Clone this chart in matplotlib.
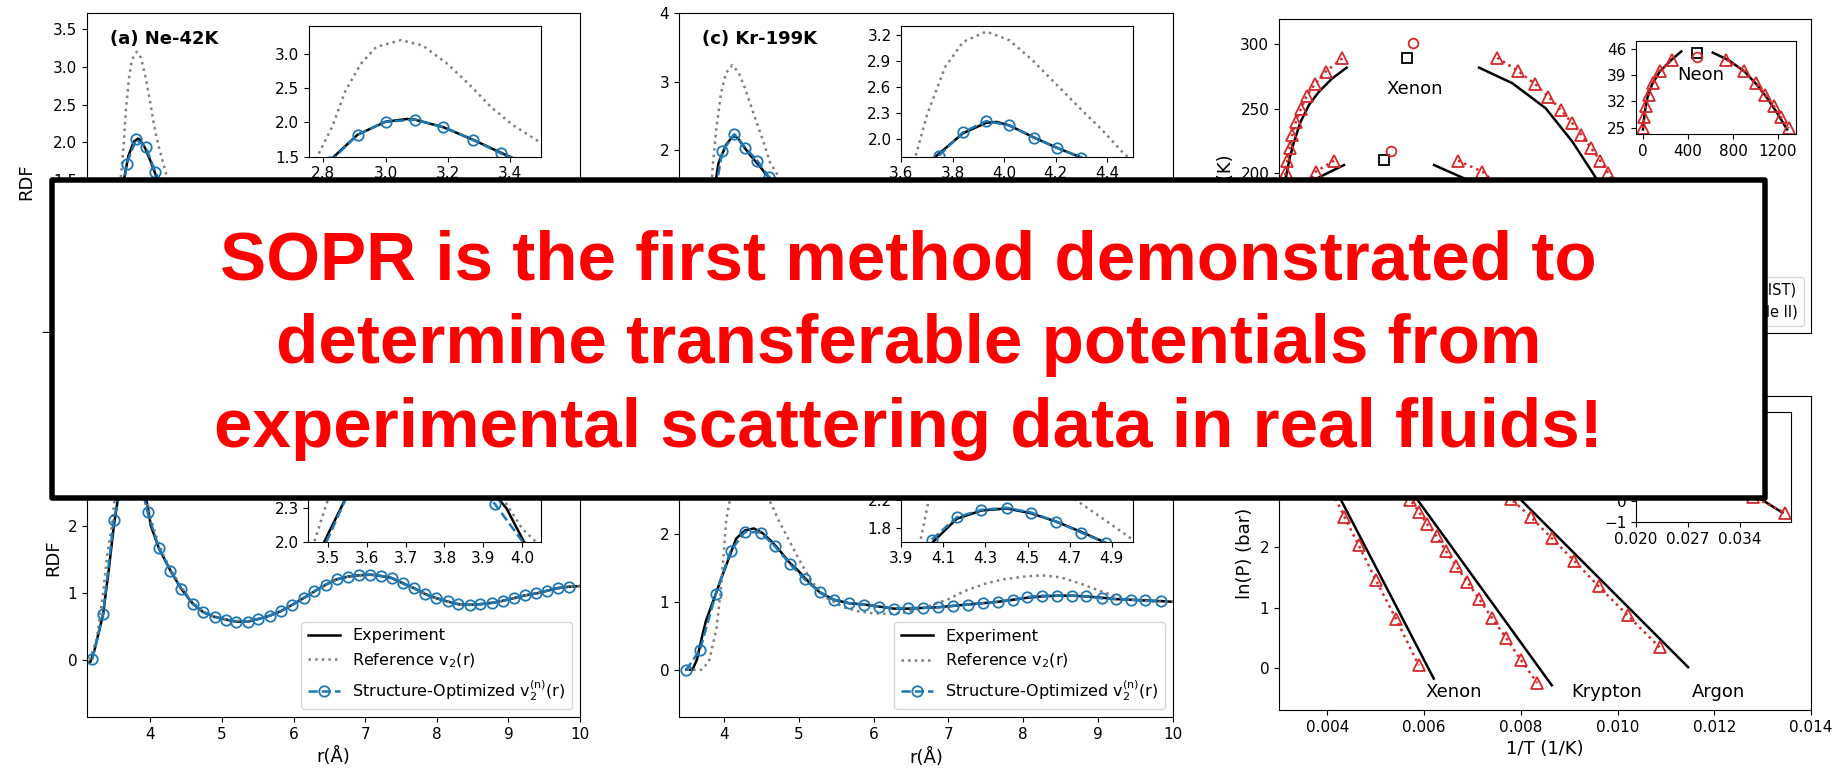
import matplotlib
matplotlib.use("Agg")
import matplotlib.pyplot as plt
from matplotlib.patches import Rectangle
from matplotlib.ticker import MultipleLocator

# ------------------------------------------------------------------ data
# (a) Ne-42K
r_exp_a = [2.45, 2.55, 2.65, 2.75, 2.834, 2.91, 3.00, 3.07, 3.095, 3.186, 3.28, 3.37, 3.46, 3.60, 3.80,
           4.00, 4.30, 4.60, 5.00, 5.40, 5.80, 6.20, 6.60, 7.00, 7.50, 8.00, 8.50, 9.00, 9.50, 10.00, 10.40]
g_exp_a = [0.0, 0.0, 0.1, 0.85, 1.50, 1.82, 2.01, 2.05, 2.04, 1.93, 1.75, 1.56, 1.38, 1.18, 1.00,
           0.88, 0.80, 0.82, 0.92, 1.05, 1.10, 1.08, 1.02, 0.98, 0.96, 0.98, 1.01, 1.02, 1.01, 1.00, 1.00]
r_ref_a = [2.45, 2.60, 2.70, 2.78, 2.83, 2.87, 2.92, 2.97, 3.05, 3.12, 3.20, 3.27, 3.34, 3.41, 3.49, 3.56,
           3.70, 3.90, 4.10, 4.40, 4.80, 5.20, 5.60, 6.00, 6.50, 7.00, 7.50, 8.00, 8.50, 9.00, 9.50, 10.00, 10.40]
g_ref_a = [0.0, 0.0, 0.35, 1.50, 1.95, 2.45, 2.85, 3.10, 3.20, 3.12, 2.85, 2.55, 2.22, 1.96, 1.73, 1.52,
           1.20, 0.95, 0.78, 0.68, 0.72, 0.90, 1.10, 1.20, 1.15, 1.03, 0.95, 0.93, 0.97, 1.02, 1.03, 1.00, 1.00]
r_opt_a = [2.56, 2.72, 2.88, 3.04, 3.20, 3.36, 3.52, 3.80, 4.10, 4.40, 4.80, 5.20, 5.60, 6.00, 6.50,
           7.00, 7.50, 8.00, 8.50, 9.00, 9.50, 10.00, 10.40]
g_opt_a = [0.0, 0.55, 1.72, 2.04, 1.94, 1.61, 1.30, 1.00, 0.86, 0.80, 0.85, 0.98, 1.08, 1.10, 1.04,
           0.98, 0.96, 0.98, 1.01, 1.02, 1.01, 1.00, 1.00]
r_optz_a = [2.82, 2.91, 3.00, 3.095, 3.186, 3.28, 3.37, 3.46]
g_optz_a = [1.42, 1.82, 2.01, 2.04, 1.93, 1.75, 1.55, 1.38]

# (c) Kr-199K
r_exp_c = [3.30, 3.45, 3.55, 3.65, 3.733, 3.84, 3.93, 3.97, 4.02, 4.116, 4.207, 4.30, 4.40, 4.50, 4.70,
           4.90, 5.10, 5.40, 5.80, 6.20, 6.60, 7.00, 7.50, 8.00, 8.50, 9.00, 9.50, 10.00, 10.25]
g_exp_c = [0.0, 0.05, 0.45, 1.25, 1.80, 2.07, 2.19, 2.20, 2.16, 2.02, 1.90, 1.79, 1.66, 1.55, 1.35,
           1.18, 1.05, 0.93, 0.88, 0.92, 1.00, 1.05, 1.06, 1.03, 1.00, 0.98, 0.99, 1.00, 1.00]
r_ref_c = [3.30, 3.40, 3.50, 3.60, 3.655, 3.70, 3.77, 3.84, 3.93, 4.02, 4.11, 4.20, 4.29, 4.38, 4.47,
           4.55, 4.70, 4.90, 5.10, 5.40, 5.80, 6.20, 6.60, 7.00, 7.50, 8.00, 8.50, 9.00, 9.50, 10.00, 10.25]
g_ref_c = [0.0, 0.0, 0.15, 0.90, 1.80, 2.28, 2.83, 3.12, 3.24, 3.14, 2.91, 2.64, 2.37, 2.11, 1.82,
           1.68, 1.45, 1.20, 1.00, 0.82, 0.72, 0.78, 0.95, 1.12, 1.20, 1.15, 1.05, 0.97, 0.95, 0.98, 1.00]
r_opt_c = [3.30, 3.46, 3.63, 3.79, 3.96, 4.12, 4.29, 4.45, 4.62, 4.90, 5.30, 5.80, 6.30, 6.80, 7.30,
           7.80, 8.30, 8.80, 9.30, 9.80, 10.20]
g_opt_c = [0.0, 0.10, 1.05, 1.98, 2.23, 2.03, 1.84, 1.61, 1.45, 1.18, 0.97, 0.88, 0.94, 1.03, 1.06,
           1.04, 1.00, 0.98, 0.99, 1.00, 1.00]
r_optz_c = [3.745, 3.84, 3.93, 4.02, 4.116, 4.207, 4.30, 4.39]
g_optz_c = [1.81, 2.08, 2.21, 2.16, 2.02, 1.90, 1.79, 1.66]

# (b) argon panel (lower left)
r_exp_b = [3.16, 3.22, 3.34, 3.42, 3.49, 3.545, 3.60, 3.66, 3.72, 3.78, 3.84, 3.90, 3.96, 4.005, 4.12,
           4.28, 4.43, 4.59, 4.74, 4.90, 5.06, 5.20, 5.36, 5.51, 5.67, 5.83, 5.98, 6.14, 6.29, 6.45,
           6.60, 6.76, 6.92, 7.07, 7.22, 7.37, 7.53, 7.68, 7.84, 7.99, 8.15, 8.30, 8.46, 8.61, 8.77,
           8.92, 9.08, 9.23, 9.39, 9.54, 9.69, 9.85, 10.0]
g_exp_b = [-0.03, 0.15, 0.68, 1.35, 2.00, 2.39, 2.70, 2.90, 2.97, 2.93, 2.78, 2.55, 2.30, 2.00, 1.66,
           1.33, 1.06, 0.84, 0.71, 0.64, 0.60, 0.57, 0.57, 0.61, 0.66, 0.73, 0.82, 0.92, 1.02, 1.12,
           1.20, 1.24, 1.26, 1.27, 1.25, 1.22, 1.14, 1.07, 0.98, 0.92, 0.87, 0.83, 0.82, 0.83, 0.85,
           0.88, 0.92, 0.96, 0.99, 1.03, 1.07, 1.09, 1.10]
r_ref_b = [3.15, 3.25, 3.34, 3.40, 3.464, 3.52, 3.58, 3.64, 3.70, 3.76, 3.82, 3.88, 3.94, 4.00, 4.10,
           4.20, 4.30, 4.45, 4.59, 4.74, 4.90, 5.06, 5.20, 5.36, 5.51, 5.67, 5.83, 5.98, 6.14, 6.29,
           6.45, 6.60, 6.76, 6.92, 7.07, 7.22, 7.37, 7.53, 7.68, 7.84, 7.99, 8.15, 8.30, 8.46, 8.61,
           8.77, 8.92, 9.08, 9.23, 9.39, 9.54, 9.69, 9.85, 10.0]
g_ref_b = [0.0, 0.30, 1.00, 1.60, 2.00, 2.60, 3.00, 3.25, 3.32, 3.25, 3.05, 2.75, 2.45, 2.12, 1.78,
           1.52, 1.32, 1.06, 0.86, 0.72, 0.64, 0.60, 0.58, 0.58, 0.61, 0.66, 0.73, 0.82, 0.92, 1.02,
           1.12, 1.19, 1.24, 1.26, 1.27, 1.25, 1.21, 1.14, 1.07, 0.99, 0.92, 0.87, 0.83, 0.82, 0.83,
           0.85, 0.88, 0.92, 0.96, 0.99, 1.03, 1.06, 1.09, 1.10]
r_opt_b = [3.19, 3.34, 3.49, 3.65, 3.80, 3.96, 4.12, 4.28, 4.43, 4.59, 4.74, 4.90, 5.06, 5.20, 5.36,
           5.51, 5.67, 5.83, 5.98, 6.14, 6.29, 6.45, 6.60, 6.76, 6.92, 7.07, 7.22, 7.37, 7.53, 7.68,
           7.84, 7.99, 8.15, 8.30, 8.46, 8.61, 8.77, 8.92, 9.08, 9.23, 9.39, 9.54, 9.69, 9.85]
g_opt_b = [0.01, 0.68, 2.09, 2.85, 2.92, 2.20, 1.66, 1.33, 1.06, 0.84, 0.71, 0.64, 0.60, 0.57, 0.57,
           0.61, 0.66, 0.73, 0.82, 0.92, 1.02, 1.12, 1.20, 1.24, 1.26, 1.27, 1.25, 1.22, 1.14, 1.07,
           0.98, 0.92, 0.87, 0.83, 0.82, 0.83, 0.85, 0.88, 0.92, 0.96, 0.99, 1.03, 1.07, 1.09]
r_optz_b = [3.4675, 3.56, 3.6525, 3.745, 3.8375, 3.93, 4.0225]
g_optz_b = [1.78, 2.50, 2.90, 2.95, 2.72, 2.34, 1.90]

# (d) xenon panel (lower middle)
r_exp_d = [3.50, 3.58, 3.64, 3.70, 3.76, 3.82, 3.89, 3.96, 4.045, 4.163, 4.28, 4.40, 4.517, 4.636, 4.756,
           4.874, 5.00, 5.08, 5.28, 5.47, 5.67, 5.87, 6.07, 6.27, 6.46, 6.66, 6.86, 7.06, 7.26, 7.46,
           7.66, 7.86, 8.05, 8.25, 8.45, 8.65, 8.84, 9.05, 9.24, 9.44, 9.63, 9.84, 10.0]
g_exp_d = [0.0, 0.0, 0.15, 0.45, 0.72, 0.90, 1.11, 1.33, 1.58, 1.93, 2.05, 2.08, 2.01, 1.89, 1.74,
           1.58, 1.45, 1.35, 1.14, 1.03, 0.98, 0.96, 0.93, 0.90, 0.90, 0.91, 0.92, 0.94, 0.96, 0.98,
           1.00, 1.03, 1.06, 1.08, 1.09, 1.09, 1.08, 1.06, 1.04, 1.03, 1.02, 1.01, 1.00]
r_ref_d = [3.50, 3.70, 3.80, 3.90, 3.96, 3.99, 4.03, 4.08, 4.15, 4.25, 4.35, 4.50, 4.63, 4.73, 4.85,
           4.99, 5.17, 5.38, 5.60, 5.80, 6.00, 6.20, 6.40, 6.70, 7.00, 7.22, 7.50, 7.73, 8.00, 8.25,
           8.50, 8.76, 9.00, 9.27, 9.50, 9.75, 10.0]
g_ref_d = [0.0, 0.0, 0.12, 0.60, 1.20, 1.60, 2.20, 2.50, 2.65, 2.72, 2.75, 2.65, 2.45, 2.20, 1.95,
           1.65, 1.30, 1.05, 0.92, 0.86, 0.83, 0.82, 0.84, 0.92, 1.04, 1.16, 1.27, 1.33, 1.37, 1.39,
           1.36, 1.27, 1.17, 1.07, 1.02, 1.00, 1.00]
r_opt_d = [3.49, 3.68, 3.89, 4.09, 4.28, 4.49, 4.68, 4.88, 5.08, 5.28, 5.47, 5.67, 5.87, 6.07, 6.27,
           6.46, 6.66, 6.86, 7.06, 7.26, 7.46, 7.66, 7.86, 8.05, 8.25, 8.45, 8.65, 8.84, 9.05, 9.24,
           9.44, 9.63, 9.84]
g_opt_d = [-0.01, 0.29, 1.11, 1.75, 2.03, 2.02, 1.82, 1.56, 1.33, 1.14, 1.03, 0.98, 0.96, 0.93, 0.90,
           0.91, 0.91, 0.92, 0.94, 0.96, 0.98, 1.00, 1.03, 1.07, 1.09, 1.09, 1.09, 1.08, 1.05, 1.04,
           1.03, 1.02, 1.01]
r_optz_d = [4.045, 4.163, 4.28, 4.40, 4.517, 4.636, 4.756, 4.874, 4.99]
g_optz_d = [1.63, 1.95, 2.06, 2.09, 2.02, 1.89, 1.73, 1.58, 1.45]

# vapour-liquid coexistence (density kg/m^3, temperature K)
xe_exp_l_rho = [10, 30, 63, 92, 130, 187, 259, 346, 461, 585]
xe_exp_l_T = [162, 180, 198.7, 211.6, 224.5, 240.0, 253.0, 263.3, 273.6, 281.9]
xe_exp_r_rho = [1730, 2018, 2306, 2537, 2724, 2850, 2980]
xe_exp_r_T = [281.9, 269.8, 250.4, 224.5, 198.7, 180, 162]
xe_mod_l_rho = [548, 404, 311, 239, 187, 144, 115, 92, 72, 58, 40, 28, 18]
xe_mod_l_T = [289.1, 278.8, 269.2, 259.9, 249.6, 239.5, 229.7, 219.8, 209.8, 201.2, 190, 180, 170]
xe_mod_r_rho = [1888, 2067, 2214, 2330, 2437, 2532, 2615, 2696, 2777, 2849, 2920, 2990, 3060]
xe_mod_r_T = [289.6, 279.3, 269.2, 259.4, 249.1, 239.2, 229.7, 219.8, 209.8, 200.0, 190, 180, 170]
kr_exp_l_rho = [10, 20, 40, 80, 140, 220, 346, 562]
kr_exp_l_T = [116, 125, 140, 155, 170, 185, 196.9, 206.4]
kr_exp_r_rho = [1341, 1600, 1780, 1950, 2090, 2210, 2320, 2380]
kr_exp_r_T = [206.4, 196.1, 185, 170, 155, 140, 125, 116]
kr_mod_l_rho = [476, 317, 230, 160, 110, 75, 50, 30, 20, 12]
kr_mod_l_T = [209.8, 201.2, 190, 180, 170, 160, 150, 140, 130, 120]
kr_mod_r_rho = [1548, 1759, 1900, 2010, 2100, 2180, 2250, 2320, 2380, 2440]
kr_mod_r_T = [209.8, 201.2, 190, 180, 170, 160, 150, 140, 130, 120]
ar_exp_l_rho = [10, 30, 70, 140, 230, 350, 470]
ar_exp_l_T = [84, 100, 115, 130, 140, 147, 150]
ar_exp_r_rho = [600, 780, 960, 1120, 1250, 1370, 1410]
ar_exp_r_T = [150, 146, 138, 125, 110, 95, 87]
ar_mod_l_rho = [40, 90, 170, 300, 450]
ar_mod_l_T = [100, 115, 130, 142, 149]
ar_mod_r_rho = [800, 1000, 1150, 1270, 1380]
ar_mod_r_T = [149, 142, 130, 115, 100]
crit_exp_rho = [1110, 909, 536]
crit_exp_T = [289.6, 210.3, 150.7]
crit_mod_rho = [1162, 972, 560]
crit_mod_T = [300.8, 217.3, 156.0]
coex_labels = ["Xenon", "Krypton", "Argon"]
coex_label_rho = [1176, 975, 600]
coex_label_T = [265.3, 186, 127]
coex_legend = ["Experiment (NIST)", "Predicted (Table II)"]

ne_exp_l_rho = [0, 15, 40, 80, 150, 250, 340]
ne_exp_l_T = [24.5, 29.0, 33.0, 36.5, 40.0, 43.0, 45.3]
ne_exp_r_rho = [620, 760, 900, 1010, 1100, 1190, 1280]
ne_exp_r_T = [45.0, 43.0, 40.0, 36.5, 33.0, 29.0, 24.5]
ne_mod_l_rho = [0, 11, 25, 52, 88, 147, 262]
ne_mod_l_T = [24.8, 27.8, 30.8, 33.7, 36.8, 40.1, 43.1]
ne_mod_r_rho = [741, 899, 1004, 1084, 1161, 1224, 1294]
ne_mod_r_T = [43.1, 40.1, 36.8, 33.7, 30.8, 27.8, 24.8]
ne_crit_exp = (483, 45.0)
ne_crit_mod = (483, 43.9)

# vapour pressure: 1/T (1/K) and ln(P/bar)
xe_inv_exp = [0.00345, 0.0062]
xe_lnp_exp = [4.07, -0.18]
xe_inv_mod = [0.00347, 0.00365, 0.00385, 0.00408, 0.00435, 0.00465, 0.00500, 0.00542, 0.00589]
xe_lnp_mod = [4.00, 3.68, 3.33, 2.95, 2.51, 2.03, 1.46, 0.81, 0.04]
kr_inv_exp = [0.00477, 0.00864]
kr_lnp_exp = [4.00, -0.29]
kr_inv_mod = [0.00478, 0.00505, 0.00530, 0.00550, 0.00571, 0.00589, 0.00607, 0.00626, 0.00645,
              0.00666, 0.00689, 0.00714, 0.00741, 0.00770, 0.00800, 0.00834]
kr_lnp_mod = [3.95, 3.60, 3.30, 3.03, 2.79, 2.59, 2.38, 2.18, 1.94, 1.69, 1.43, 1.14, 0.82, 0.49, 0.13, -0.25]
ar_inv_exp = [0.00664, 0.01146]
ar_lnp_exp = [3.88, 0.01]
ar_inv_mod = [0.00667, 0.00705, 0.00742, 0.00780, 0.00821, 0.00864, 0.00910, 0.00961, 0.01021, 0.01087]
ar_lnp_mod = [3.85, 3.50, 3.15, 2.80, 2.50, 2.15, 1.78, 1.35, 0.87, 0.34]
ne_inv_exp = [0.0225, 0.0397]
ne_lnp_exp = [3.29, -0.55]
ne_inv_mod = [0.0227, 0.0238, 0.0250, 0.0270, 0.0294, 0.0323, 0.0357, 0.0400]
ne_lnp_mod = [3.22, 2.92, 2.62, 2.10, 1.55, 0.92, 0.22, -0.55]
vp_labels = ["Xenon", "Krypton", "Argon"]
vp_label_x = [0.00662, 0.00978, 0.01209]
vp_label_y = [-0.40, -0.40, -0.40]

BANNER_LINES = ["SOPR is the first method demonstrated to",
                "determine transferable potentials from",
                "experimental scattering data in real fluids!"]

# ------------------------------------------------------------------ figure
W, H, DPI = 1837, 773, 100
plt.rcParams['font.family'] = ['DejaVu Sans']
plt.rcParams['xtick.labelsize'] = 11
plt.rcParams['ytick.labelsize'] = 11
plt.rcParams['axes.labelsize'] = 13

fig = plt.figure(figsize=(W / DPI, H / DPI), dpi=DPI)
BLUE = '#1f77b4'
RED = '#d62728'


def box(l, t, r, b):
    return [l / W, 1 - b / H, (r - l) / W, (b - t) / H]


def draw_rdf(ax, rexp, gexp, rref, gref, ropt, gopt):
    ax.plot(rexp, gexp, color='k', lw=1.8, label='Experiment')
    ax.plot(rref, gref, color='gray', ls=':', lw=1.8, label=r'Reference $\mathregular{v_2(r)}$')
    ax.plot(ropt, gopt, color=BLUE, ls='--', lw=1.8, marker='o', ms=7.5, mfc='none', mew=1.3,
            label=r'Structure-Optimized $\mathregular{v_2^{(n)}(r)}$')


def rdf_main(rect_px, xlim, ylim, data, title=None, ylabel=False, legend=False):
    ax = fig.add_axes(box(*rect_px))
    draw_rdf(ax, *data)
    ax.set_xlim(*xlim)
    ax.set_ylim(*ylim)
    ax.set_xlabel('r(Å)')
    if ylabel:
        ax.set_ylabel('RDF')
    if title:
        ax.text(0.047, 1 - 25.5 / (rect_px[3] - rect_px[1]), title, transform=ax.transAxes,
                fontsize=13, fontweight='bold', va='center', ha='left')
    if legend:
        ax.legend(loc='lower right', fontsize=11.5)
    return ax


def rdf_inset(rect_px, xlim, ylim, xticks, yticks, data):
    ax = fig.add_axes(box(*rect_px))
    draw_rdf(ax, *data)
    ax.set_xlim(*xlim)
    ax.set_ylim(*ylim)
    ax.set_xticks(xticks)
    ax.set_yticks(yticks)
    return ax


# (a)
axA = rdf_main((87, 13.3, 580, 350), (2.22, 10.44), (-0.75, 3.71),
               (r_exp_a, g_exp_a, r_ref_a, g_ref_a, r_opt_a, g_opt_a), title='(a) Ne-42K', ylabel=True)
axA.yaxis.set_major_locator(MultipleLocator(0.5))
rdf_inset((309, 25.7, 541, 156.7), (2.754, 3.50), (1.5, 3.41), [2.8, 3.0, 3.2, 3.4], [1.5, 2.0, 2.5, 3.0],
          (r_exp_a, g_exp_a, r_ref_a, g_ref_a, r_optz_a, g_optz_a))

# (c)
axC = rdf_main((679, 13.3, 1173, 335), (3.17, 10.23), (-0.71, 4.0),
               (r_exp_c, g_exp_c, r_ref_c, g_ref_c, r_opt_c, g_opt_c), title='(c) Kr-199K')
axC.yaxis.set_major_locator(MultipleLocator(1))
rdf_inset((901.3, 25.7, 1132.8, 156.7), (3.6, 4.5), (1.8, 3.307), [3.6, 3.8, 4.0, 4.2, 4.4],
          [2.0, 2.3, 2.6, 2.9, 3.2], (r_exp_c, g_exp_c, r_ref_c, g_ref_c, r_optz_c, g_optz_c))

# (b)
axB = rdf_main((87, 398, 580, 717), (3.115, 10.0), (-0.85, 3.9),
               (r_exp_b, g_exp_b, r_ref_b, g_ref_b, r_opt_b, g_opt_b), ylabel=True, legend=True)
axB.yaxis.set_major_locator(MultipleLocator(1))
rdf_inset((308.4, 410.7, 541, 541.7), (3.449, 4.049), (2.0, 3.18), [3.5, 3.6, 3.7, 3.8, 3.9, 4.0],
          [2.0, 2.3, 2.6, 2.9], (r_exp_b, g_exp_b, r_ref_b, g_ref_b, r_optz_b, g_optz_b))

# (d)
axD = rdf_main((679, 398, 1173, 717.3), (3.4, 10.0), (-0.70, 4.0),
               (r_exp_d, g_exp_d, r_ref_d, g_ref_d, r_opt_d, g_opt_d), legend=True)
axD.yaxis.set_major_locator(MultipleLocator(1))
rdf_inset((901.3, 410.7, 1132.8, 541.7), (3.9, 5.0), (1.6, 3.49), [3.9, 4.1, 4.3, 4.5, 4.7, 4.9],
          [1.8, 2.2, 2.6, 3.0, 3.4], (r_exp_d, g_exp_d, r_ref_d, g_ref_d, r_optz_d, g_optz_d))

# coexistence curves
EXP_KW = dict(color='k', lw=1.8)
MOD_KW = dict(color=RED, ls=':', lw=1.8, marker='^', ms=8, mfc='none', mec=RED, mew=1.3)

axE = fig.add_axes(box(1279, 19, 1811, 333))
h_exp, = axE.plot(xe_exp_l_rho, xe_exp_l_T, **EXP_KW)
axE.plot(xe_exp_r_rho, xe_exp_r_T, **EXP_KW)
h_mod, = axE.plot(xe_mod_l_rho, xe_mod_l_T, **MOD_KW)
axE.plot(xe_mod_r_rho, xe_mod_r_T, **MOD_KW)
for xl, tl, xr, tr in [(kr_exp_l_rho, kr_exp_l_T, kr_exp_r_rho, kr_exp_r_T),
                       (ar_exp_l_rho, ar_exp_l_T, ar_exp_r_rho, ar_exp_r_T)]:
    axE.plot(xl, tl, **EXP_KW)
    axE.plot(xr, tr, **EXP_KW)
for xl, tl, xr, tr in [(kr_mod_l_rho, kr_mod_l_T, kr_mod_r_rho, kr_mod_r_T),
                       (ar_mod_l_rho, ar_mod_l_T, ar_mod_r_rho, ar_mod_r_T)]:
    axE.plot(xl, tl, **MOD_KW)
    axE.plot(xr, tr, **MOD_KW)
axE.plot(crit_exp_rho, crit_exp_T, ls='none', marker='s', ms=7, mfc='none', mec='k', mew=1.3)
axE.plot(crit_mod_rho, crit_mod_T, ls='none', marker='o', ms=7, mfc='none', mec=RED, mew=1.3)
for lab, x, y in zip(coex_labels, coex_label_rho, coex_label_T):
    axE.text(x, y, lab, fontsize=13, ha='center', va='center')
axE.set_xlim(0, 4600)
axE.set_ylim(76.2, 319.6)
axE.set_xlabel(r'$\rho$ (kg/m$^3$)')
axE.set_ylabel('T (K)')
axE.legend([h_exp, h_mod], coex_legend, loc='lower right', fontsize=10.5)

insE = fig.add_axes(box(1636, 41, 1795.7, 134.3))
insE.plot(ne_exp_l_rho, ne_exp_l_T, **EXP_KW)
insE.plot(ne_exp_r_rho, ne_exp_r_T, **EXP_KW)
insE.plot(ne_mod_l_rho, ne_mod_l_T, **MOD_KW)
insE.plot(ne_mod_r_rho, ne_mod_r_T, **MOD_KW)
insE.plot([ne_crit_exp[0]], [ne_crit_exp[1]], ls='none', marker='s', ms=7, mfc='none', mec='k', mew=1.3)
insE.plot([ne_crit_mod[0]], [ne_crit_mod[1]], ls='none', marker='o', ms=7, mfc='none', mec=RED, mew=1.3)
insE.text(515, 38.9, 'Neon', fontsize=13, ha='center', va='center')
insE.set_xlim(-62, 1357)
insE.set_ylim(23.2, 48.1)
insE.set_xticks([0, 400, 800, 1200])
insE.set_yticks([25, 32, 39, 46])

# vapour pressure
axF = fig.add_axes(box(1279, 396, 1811, 710))
for xe, ye, xm, ym in [(xe_inv_exp, xe_lnp_exp, xe_inv_mod, xe_lnp_mod),
                       (kr_inv_exp, kr_lnp_exp, kr_inv_mod, kr_lnp_mod),
                       (ar_inv_exp, ar_lnp_exp, ar_inv_mod, ar_lnp_mod)]:
    axF.plot(xe, ye, **EXP_KW)
    axF.plot(xm, ym, **MOD_KW)
for lab, x, y in zip(vp_labels, vp_label_x, vp_label_y):
    axF.text(x, y, lab, fontsize=13, ha='center', va='center')
axF.set_xlim(0.003, 0.014)
axF.set_ylim(-0.70, 4.51)
axF.set_xticks([0.004, 0.006, 0.008, 0.010, 0.012, 0.014])
axF.yaxis.set_major_locator(MultipleLocator(1))
axF.set_xlabel('1/T (1/K)')
axF.set_ylabel('ln(P) (bar)')

insF = fig.add_axes(box(1636, 412, 1790.6, 522))
insF.plot(ne_inv_exp, ne_lnp_exp, **EXP_KW)
insF.plot(ne_inv_mod, ne_lnp_mod, **MOD_KW)
insF.text(0.0283, 0.56, 'Neon', fontsize=13, ha='center', va='center')
insF.set_xlim(0.020, 0.0408)
insF.set_ylim(-1.0, 4.27)
insF.set_xticks([0.020, 0.027, 0.034])
insF.yaxis.set_major_locator(MultipleLocator(1))

# ------------------------------------------------------------------ banner
fig.add_artist(Rectangle((51.6 / W, 1 - 497.5 / H), (1765.5 - 51.6) / W, (497.5 - 180.3) / H,
                         transform=fig.transFigure, facecolor='white', edgecolor='black',
                         lw=3.96, joinstyle='round', zorder=10))
for line, yb in zip(BANNER_LINES, [280.0, 363.3, 446.7]):
    fig.text(908.5 / W, 1 - yb / H, line, ha='center', va='baseline', color='#ff0000',
             fontsize=49.8, fontweight='bold', family=['Liberation Sans', 'DejaVu Sans'], zorder=11)

fig.savefig('out.png', dpi=DPI)
